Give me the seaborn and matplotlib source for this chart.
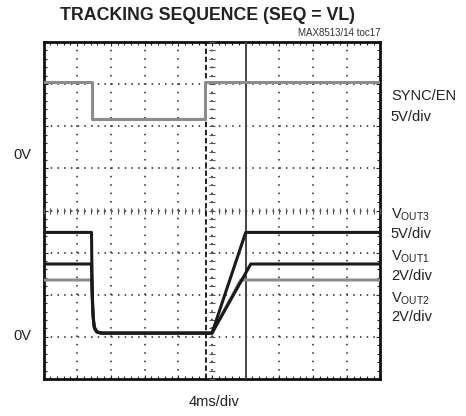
import numpy as np
import pandas as pd
import seaborn as sns
import matplotlib.pyplot as plt

# scope capture, x in ms (4ms/div), y in screen divisions (0..8)
sync_t = [0, 5.7, 5.7, 19.2, 19.2, 40]
sync_v = [7.04, 7.04, 6.18, 6.18, 7.04, 7.04]

vout3_t = [0, 5.7, 5.75, 5.85, 6.0, 6.3, 6.8, 20.0, 24.0, 40]
vout3_v = [3.48, 3.48, 2.5, 1.6, 1.25, 1.12, 1.09, 1.09, 3.48, 3.48]

vout1_t = [0, 5.7, 5.78, 5.9, 6.05, 6.4, 6.9, 20.0, 24.6, 40]
vout1_v = [2.73, 2.73, 2.0, 1.45, 1.2, 1.11, 1.09, 1.09, 2.73, 2.73]

vout2_t = [0, 5.7, 5.8, 5.95, 6.1, 6.5, 7.0, 20.0, 23.4, 40]
vout2_v = [2.35, 2.35, 1.8, 1.35, 1.18, 1.1, 1.09, 1.09, 2.35, 2.35]

sns.set_theme(style="white")
plt.rcParams["font.family"] = ["Liberation Sans", "DejaVu Sans"]

fig = plt.figure(figsize=(4.66, 4.16), dpi=100)
ax = fig.add_axes([43.5 / 466, 37 / 416, 337 / 466, 337 / 416])

# traces
traces = [
    (sync_t, sync_v, "#8c8c8c", 2.2),
    (vout2_t, vout2_v, "#8c8c8c", 2.2),
    (vout1_t, vout1_v, "#1a1a1a", 2.2),
    (vout3_t, vout3_v, "#1a1a1a", 2.2),
]
for t, v, c, lw in traces:
    df = pd.DataFrame({"t": t, "v": v})
    sns.lineplot(data=df, x="t", y="v", sort=False, estimator=None,
                 color=c, linewidth=lw, ax=ax, zorder=5)

ax.set_xlim(0, 40)
ax.set_ylim(0, 8)
ax.set_xticks(np.arange(0, 41, 4))
ax.set_yticks(np.arange(0, 9, 1))
ax.set_xticks(np.arange(0, 40.01, 0.8), minor=True)
ax.set_yticks(np.arange(0, 8.01, 0.2), minor=True)
ax.set_xticklabels([])
ax.set_yticklabels([])
ax.set_xlabel("")
ax.set_ylabel("")
ax.tick_params(which="both", direction="in", top=True, right=True,
               bottom=True, left=True, color="#222222")
ax.tick_params(which="major", length=3, width=0.8)
ax.tick_params(which="minor", length=2, width=0.8)

# dotted graticule
ax.xaxis.grid(True, which="major", color="#222222", linewidth=1.1,
              linestyle=(0, (1.0, 4.5)))
ax.yaxis.grid(True, which="major", color="#222222", linewidth=1.1,
              linestyle=(0, (1.0, 3.4)))

# center axes with fine ticks
ax.plot(np.arange(0, 40.01, 0.8), np.full(51, 4.0), linestyle="none",
        marker="|", markersize=4, color="#555555", mew=0.8, zorder=3)
ax.plot(np.full(41, 20.0), np.arange(0, 8.01, 0.2), linestyle="none",
        marker="_", markersize=4, color="#555555", mew=0.8, zorder=3)

# cursors
ax.axvline(24.0, color="#444444", linewidth=1.4, zorder=4)
ax.axvline(19.25, color="#111111", linewidth=1.3, linestyle=(0, (3, 1.5)), zorder=4)

for s in ax.spines.values():
    s.set_linewidth(2.0)
    s.set_color("#111111")

# labels
txt = dict(fontsize=10.5, color="#222222", va="center")
ax.text(-0.037, 5.32, "0V", transform=ax.get_yaxis_transform(), ha="right", **txt)
ax.text(-0.037, 1.02, "0V", transform=ax.get_yaxis_transform(), ha="right", **txt)

right = [
    (6.71, "SYNC/EN"),
    (6.23, "5V/div"),
    (3.90, r"$\mathregular{V_{OUT3}}$"),
    (3.44, "5V/div"),
    (2.91, r"$\mathregular{V_{OUT1}}$"),
    (2.45, "2V/div"),
    (1.91, r"$\mathregular{V_{OUT2}}$"),
    (1.47, "2V/div"),
]
for y, s in right:
    ax.text(1.031, y, s, transform=ax.get_yaxis_transform(), ha="left", **txt)

fig.text(208 / 466, 1 - 15 / 416, "TRACKING SEQUENCE (SEQ = VL)",
         ha="center", va="center", fontsize=12.8, fontweight="bold",
         color="#222222")
fig.text(380 / 466, 1 - 33 / 416, "MAX8513/14 toc17", ha="right", va="center",
         fontsize=7, color="#333333")
fig.text(214 / 466, 1 - 402 / 416, "4ms/div", ha="center", va="center",
         fontsize=10.5, color="#222222")

fig.savefig("out.png", dpi=100)
